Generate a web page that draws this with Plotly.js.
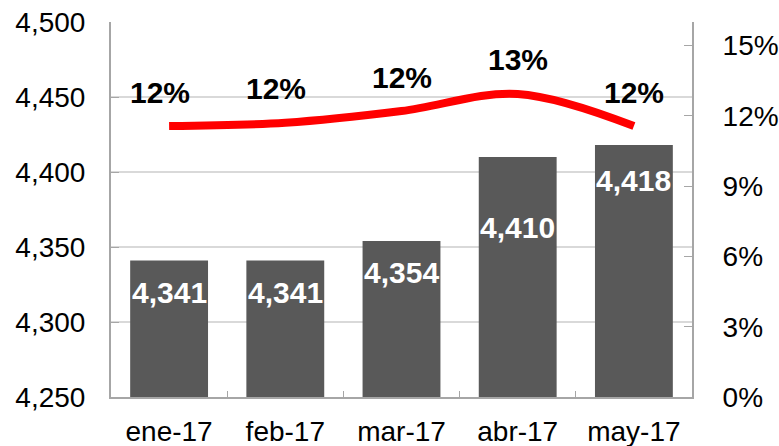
<!DOCTYPE html>
<html>
<head>
<meta charset="utf-8">
<script src="https://cdn.plot.ly/plotly-3.0.1.min.js"></script>
<style>
  html, body { margin: 0; padding: 0; background: #fff; }
  #chart { width: 779px; height: 446px; }
</style>
</head>
<body>
<div id="chart"></div>
<script>
// Datos
const meses = ['ene-17', 'feb-17', 'mar-17', 'abr-17', 'may-17'];
const valores = [4341, 4341, 4354, 4410, 4418];        // barras (eje izq.)
const porcentaje = [0.1156, 0.117, 0.122, 0.1293, 0.1156]; // línea (eje der.)

// desplazamiento vertical de la etiqueta dentro de cada barra (px)
const desplEtiqueta = [-32, -32, -31, -70, -35];

const fuente = 'Liberation Sans, Arial, sans-serif';
const gris = '#a6a6a6';

const fmtMiles = v => v.toLocaleString('en-US');

const anotaciones = [];
meses.forEach((m, i) => {
  anotaciones.push({
    x: m, y: valores[i], xref: 'x', yref: 'y',
    text: fmtMiles(valores[i]), showarrow: false,
    yshift: desplEtiqueta[i],
    font: { family: fuente, size: 30, color: '#ffffff', weight: 'bold' }
  });
  anotaciones.push({
    x: m, y: porcentaje[i], xref: 'x', yref: 'y2',
    text: '<b>' + Math.round(porcentaje[i] * 100) + '%</b>', showarrow: false,
    yshift: 34, xshift: i < 2 ? -9 : 0,
    font: { family: fuente, size: 30, color: '#000000' }
  });
});

const trazas = [
  {
    type: 'bar', x: meses, y: valores, yaxis: 'y',
    marker: { color: '#595959' }, hoverinfo: 'skip'
  },
  {
    type: 'scatter', mode: 'lines', x: meses, y: porcentaje, yaxis: 'y2',
    line: { color: '#ff0000', width: 8, shape: 'spline', smoothing: 1 },
    hoverinfo: 'skip'
  }
];

const layout = {
  width: 779, height: 446,
  margin: { l: 111, r: 87, t: 22, b: 49 },
  paper_bgcolor: '#ffffff', plot_bgcolor: '#ffffff',
  showlegend: false,
  bargap: 0.33,
  font: { family: fuente, size: 28, color: '#000000' },
  xaxis: {
    type: 'category',
    showline: true, linecolor: gris, linewidth: 2,
    ticks: 'inside', tickson: 'boundaries', ticklen: 6, tickcolor: gris,
    showgrid: false, tickfont: { size: 28 },
    ticklabelstandoff: 8
  },
  yaxis: {
    range: [4250, 4500], tick0: 4250, dtick: 50,
    tickformat: ',d',
    showline: true, linecolor: gris, linewidth: 2, mirror: false,
    ticks: 'inside', ticklen: 8, tickcolor: gris,
    gridcolor: '#d9d9d9', gridwidth: 2, zeroline: false,
    tickfont: { size: 28 }, ticklabelstandoff: 18
  },
  yaxis2: {
    overlaying: 'y', side: 'right',
    range: [0, 0.16], tick0: 0, dtick: 0.03, tickformat: '.0%',
    showline: true, linecolor: gris, linewidth: 2,
    ticks: 'inside', ticklen: 8, tickcolor: gris,
    showgrid: false, zeroline: false,
    tickfont: { size: 28 }, ticklabelstandoff: 23
  },
  annotations: anotaciones
};

Plotly.newPlot('chart', trazas, layout, { staticPlot: true });
</script>
</body>
</html>
